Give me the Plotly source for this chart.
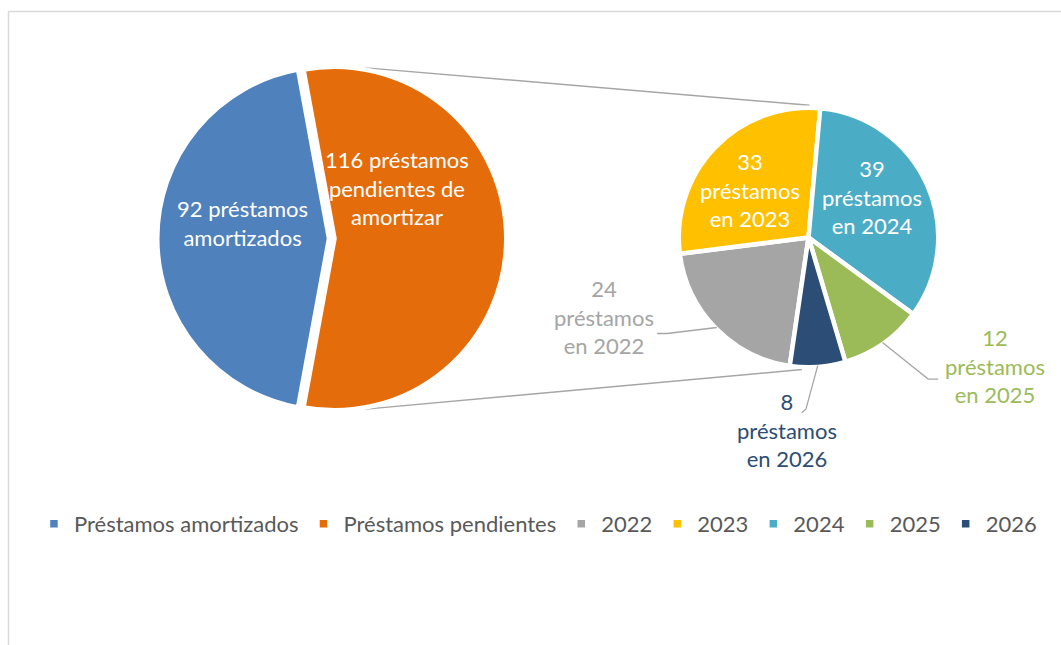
import math
import plotly.graph_objects as go

# ---------------- data ----------------
main_labels = ["Préstamos amortizados", "Préstamos pendientes"]
main_values = [92, 116]
main_texts = ["92 préstamos<br>amortizados", "116 préstamos<br>pendientes de<br>amortizar"]

year_labels = ["2022", "2023", "2024", "2025", "2026"]
year_values = [24, 33, 39, 12, 8]
year_texts = [f"{v}<br>préstamos<br>en {y}" for v, y in zip(year_values, year_labels)]

# ---------------- style ----------------
W, H = 1061, 645
FONT = "Lato"
FS = 22
main_colors = ["#4F81BD", "#E46C0A"]
year_colors = ["#A5A5A5", "#FFC000", "#4BACC6", "#9BBB59", "#2C4D75"]
LINE_W = 4.5

L_CX, L_CY, L_RVIS = 329.0, 238.5, 169.5
L_R = L_RVIS + LINE_W / 2
PULL_PX = 5.5
L_PULL = PULL_PX / L_R
R_CX, R_CY, R_RVIS = 808.5, 237.5, 127.5
R_R = R_RVIS + LINE_W / 2

main_rotation = 270 - 180 * main_values[0] / sum(main_values)
year_rotation = 188.3


def domain(cx, cy, r, pull=0.0):
    half = r * (1 + pull)
    return dict(x=[(cx - half) / W, (cx + half) / W],
                y=[1 - (cy + half) / H, 1 - (cy - half) / H])


def slices(values, rotation):
    tot = sum(values)
    a = rotation
    out = []
    for v in values:
        span = 360.0 * v / tot
        out.append(a + span / 2)
        a += span
    return out


def polar(cx, cy, r, ang):
    t = math.radians(ang)
    return cx + r * math.sin(t), cy - r * math.cos(t)


def px(x, y):
    return x / W, 1 - y / H


fig = go.Figure()
fig.add_trace(go.Pie(
    labels=main_labels, values=main_values, sort=False, direction="clockwise",
    rotation=main_rotation, pull=[0, L_PULL], textinfo="none", hoverinfo="label+value",
    marker=dict(colors=main_colors, line=dict(color="white", width=LINE_W)),
    domain=domain(L_CX, L_CY, L_R, L_PULL),
))
fig.add_trace(go.Pie(
    labels=year_labels, values=year_values, sort=False, direction="clockwise",
    rotation=year_rotation, textinfo="none", hoverinfo="label+value",
    marker=dict(colors=year_colors, line=dict(color="white", width=LINE_W)),
    domain=domain(R_CX, R_CY, R_R),
))

annotations = []
shapes = []

# left pie labels
main_bis = slices(main_values, main_rotation)
main_rf = [0.5, 0.4]
main_nudge = [(-1, -15.5), (-6, -50.5)]
for i, b in enumerate(main_bis):
    cx, cy = L_CX, L_CY
    if i == 1:
        cx, cy = polar(L_CX, L_CY, PULL_PX, b)
    x, y = polar(cx, cy, main_rf[i] * L_R, b)
    x += main_nudge[i][0]
    y += main_nudge[i][1]
    xp, yp = px(x, y)
    annotations.append(dict(x=xp, y=yp, xref="paper", yref="paper", text=main_texts[i],
                            showarrow=False, xanchor="center", yanchor="middle",
                            font=dict(family=FONT, size=FS, color="white")))

# right pie labels
year_bis = slices(year_values, year_rotation)
inside = {1: (0.58, (-4, 4.5)), 2: (0.58, (-5, -9.5))}
outside = {
    0: dict(off=(-112.7, -10.3), elbow=(63, 16.3), end=(53, 16.3)),
    3: dict(off=(112.7, 23.5), elbow=(-67, 13), end=(-57, 13)),
    4: dict(off=(-31, 64.3), elbow=(19.3, -21), end=(15, -17.3)),
}
for i, b in enumerate(year_bis):
    if i in inside:
        rf, (dx, dy) = inside[i]
        x, y = polar(R_CX, R_CY, rf * R_R, b)
        x += dx
        y += dy
        color = "white"
    else:
        o = outside[i]
        ex, ey = polar(R_CX, R_CY, R_RVIS + 1, b)
        x, y = ex + o["off"][0], ey + o["off"][1]
        color = year_colors[i]
        p1 = px(ex, ey)
        p2 = px(x + o["elbow"][0], y + o["elbow"][1])
        p3 = px(x + o["end"][0], y + o["end"][1])
        shapes.append(dict(type="path", xref="paper", yref="paper",
                           path=f"M {p1[0]},{p1[1]} L {p2[0]},{p2[1]} L {p3[0]},{p3[1]}",
                           line=dict(color="#A6A6A6", width=1.3)))
    xp, yp = px(x, y)
    annotations.append(dict(x=xp, y=yp, xref="paper", yref="paper", text=year_texts[i],
                            showarrow=False, xanchor="center", yanchor="middle",
                            font=dict(family=FONT, size=FS, color=color)))

# connector lines between pies
ocx, ocy = polar(L_CX, L_CY, PULL_PX, main_bis[1])
for la, ra in [(9.5, 0.5), (170.5, 182.8)]:
    a = px(*polar(ocx, ocy, L_R + 1.5, la))
    b = px(*polar(R_CX, R_CY, R_R + 2.5, ra))
    shapes.append(dict(type="line", xref="paper", yref="paper", x0=a[0], y0=a[1], x1=b[0], y1=b[1],
                       line=dict(color="#A6A6A6", width=1.5), layer="below"))

# chart border (top and left visible)
bx0, by0 = px(8.5, 11.5)
shapes.append(dict(type="line", xref="paper", yref="paper", x0=bx0, y0=by0, x1=1.02, y1=by0,
                   line=dict(color="#D9D9D9", width=1.5)))
shapes.append(dict(type="line", xref="paper", yref="paper", x0=bx0, y0=by0, x1=bx0, y1=-0.02,
                   line=dict(color="#D9D9D9", width=1.5)))

fig.update_layout(
    width=W, height=H,
    margin=dict(l=0, r=0, t=0, b=0),
    paper_bgcolor="white", plot_bgcolor="white",
    font=dict(family=FONT, size=FS, color="#595959"),
    showlegend=True,
    legend=dict(orientation="h", x=0.032, xanchor="left", y=1 - 524 / H, yanchor="middle",
                font=dict(family=FONT, size=FS, color="#595959"),
                bgcolor="rgba(0,0,0,0)", traceorder="normal"),
    annotations=annotations,
    shapes=shapes,
)

fig.write_html("out.html")
